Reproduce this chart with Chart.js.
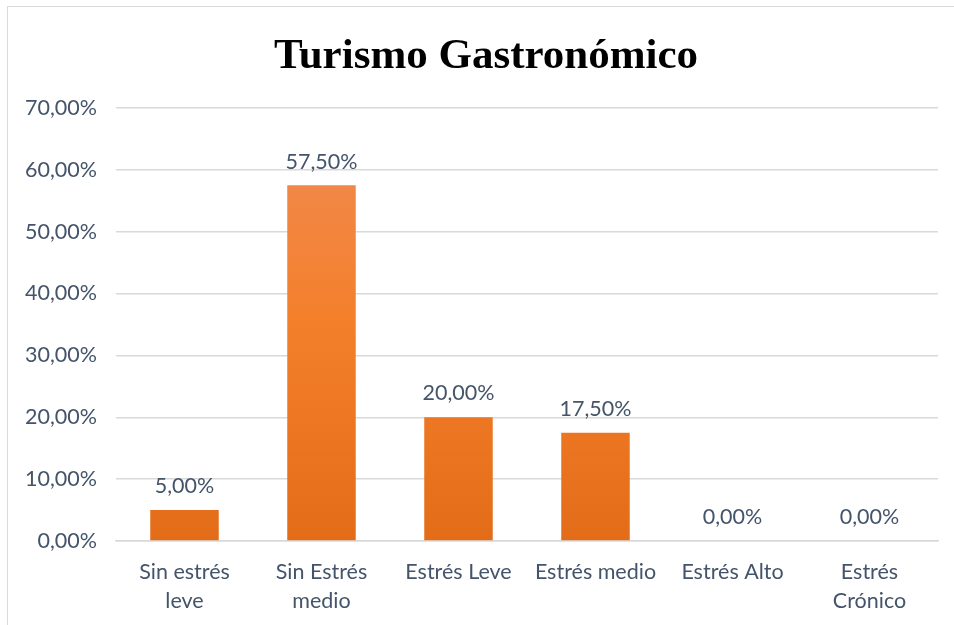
<!DOCTYPE html>
<html>
<head>
<meta charset="utf-8">
<script src="https://cdn.jsdelivr.net/npm/chart.js@4/dist/chart.umd.min.js"></script>
<style>
html,body{margin:0;padding:0;background:#fff;}
#wrap{position:absolute;left:0;top:0;width:954px;height:625px;}
#frame{position:absolute;left:7px;top:6px;width:960px;height:640px;border:1px solid #d9d9d9;box-sizing:border-box;}
</style>
</head>
<body>
<div id="frame"></div>
<div id="wrap"><canvas id="c" width="954" height="625"></canvas></div>
<script>
const categories = [["Sin estrés","leve"],["Sin Estrés","medio"],"Estrés Leve","Estrés medio","Estrés Alto",["Estrés","Crónico"]];
const values = [5.00, 57.50, 20.00, 17.50, 0.00, 0.00];
const yTicks = [0,10,20,30,40,50,60,70];
const titleText = "Turismo Gastronómico";

function fmt(v){ return v.toFixed(2).replace('.', ',') + '%'; }

const textColor = '#44546A';
const fontFam = 'Lato, "Open Sans", sans-serif';

const labelPlugin = {
  id: 'barLabels',
  afterDatasetsDraw(chart){
    const ctx = chart.ctx;
    const meta = chart.getDatasetMeta(0);
    ctx.save();
    ctx.font = '21.5px ' + fontFam;
    ctx.fillStyle = textColor;
    ctx.textAlign = 'center';
    ctx.textBaseline = 'bottom';
    meta.data.forEach((bar, i) => {
      ctx.fillText(fmt(values[i]), bar.x, bar.y - 13);
    });
    ctx.restore();
  }
};

const titlePlugin = {
  id: 'chartTitle',
  afterDraw(chart){
    const ctx = chart.ctx;
    ctx.save();
    ctx.font = 'bold 43px "Liberation Serif", "Times New Roman", serif';
    ctx.fillStyle = '#000';
    ctx.textAlign = 'center';
    ctx.textBaseline = 'alphabetic';
    ctx.fillText(titleText, 486, 68);
    ctx.restore();
  }
};

function barGradient(context){
  const chart = context.chart;
  const el = context.element;
  const area = chart.chartArea;
  if (!area) return '#F47F2A';
  let top = area.top, bottom = area.bottom;
  if (el && el.y !== undefined && el.base !== undefined) { top = el.y; bottom = el.base; }
  if (!(bottom > top)) return '#F47F2A';
  const g = chart.ctx.createLinearGradient(0, top, 0, bottom);
  g.addColorStop(0, '#F08C56');
  g.addColorStop(0.5, '#F47F2A');
  g.addColorStop(1, '#E36C19');
  return g;
}

new Chart(document.getElementById('c'), {
  type: 'bar',
  data: {
    labels: categories,
    datasets: [{
      data: values,
      backgroundColor: barGradient,
      borderWidth: 0,
      categoryPercentage: 1.0,
      barPercentage: 0.5
    }]
  },
  options: {
    responsive: false,
    animation: false,
    devicePixelRatio: 1,
    layout: { padding: { left: 6, right: 16, top: 108, bottom: -8 } },
    plugins: {
      legend: { display: false },
      tooltip: { enabled: false },
      title: { display: false }
    },
    scales: {
      x: {
        grid: { display: false, drawTicks: false },
        border: { display: true, color: '#d9d9d9', width: 1.5 },
        ticks: {
          color: textColor,
          font: { family: fontFam, size: 21.5, lineHeight: 1.35 },
          padding: 17,
          maxRotation: 0,
          autoSkip: false
        }
      },
      y: {
        min: 0, max: 70,
        afterBuildTicks(axis){ axis.ticks = yTicks.map(v => ({ value: v })); },
        grid: { color: '#d9d9d9', lineWidth: 1.5, drawTicks: false },
        border: { display: false },
        ticks: {
          color: textColor,
          font: { family: fontFam, size: 21.5 },
          padding: 19,
          callback: v => fmt(v)
        }
      }
    }
  },
  plugins: [labelPlugin, titlePlugin]
});
</script>
</body>
</html>
